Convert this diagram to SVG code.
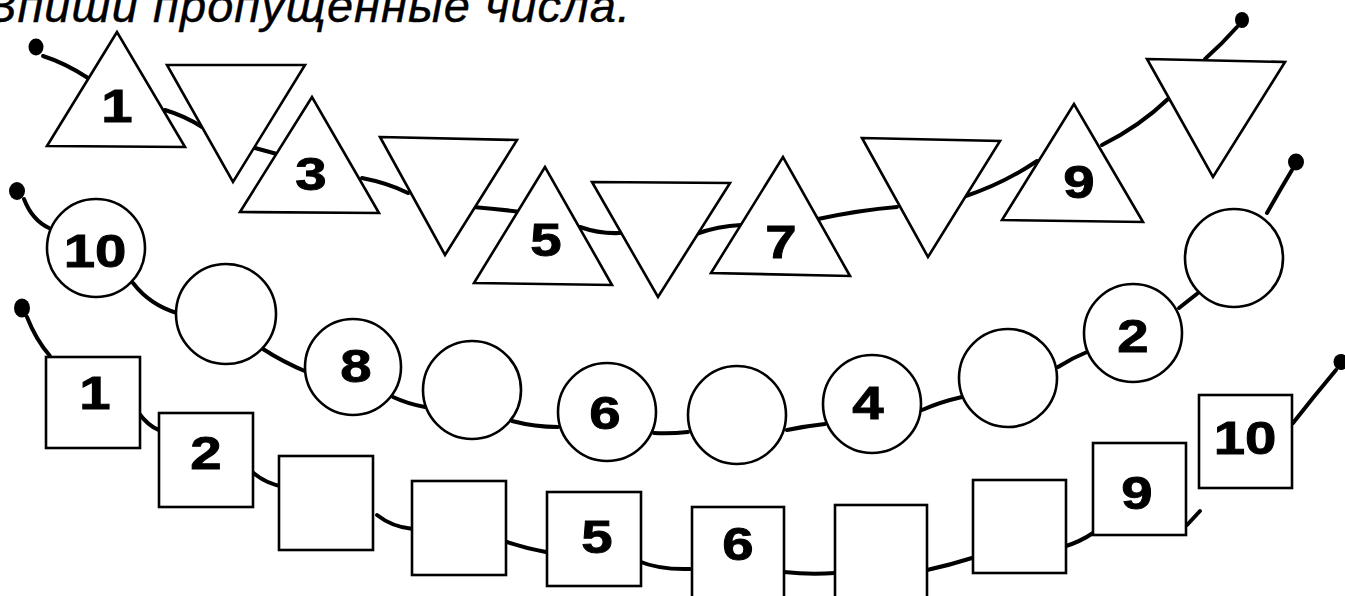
<svg xmlns="http://www.w3.org/2000/svg" width="1345" height="596" viewBox="0 0 1345 596">
<style>
.sh{fill:#fff;stroke:#000;stroke-width:2.6;stroke-linejoin:miter}
.cn{fill:none;stroke:#000;stroke-width:4;stroke-linecap:round}
.dot{fill:#000}
.num{font-family:"Liberation Sans",Arial,sans-serif;font-weight:bold;font-size:47px;text-anchor:middle;fill:#000;stroke:#000;stroke-width:0.9}
.title{font-family:"Liberation Sans",Arial,sans-serif;font-style:italic;font-size:47px;fill:#000;stroke:#000;stroke-width:0.4}
</style>
<rect width="1345" height="596" fill="#fff"/>
<text class="title" x="-15" y="22" textLength="645" lengthAdjust="spacing">Впиши пропущенные числа.</text>
<g id="connectors">
<ellipse class="dot" cx="36" cy="47" rx="7.5" ry="8.5"/>
<ellipse class="dot" cx="1242" cy="20" rx="7" ry="8"/>
<ellipse class="dot" cx="17" cy="191" rx="8" ry="9"/>
<ellipse class="dot" cx="1296" cy="162" rx="8" ry="8.5"/>
<ellipse class="dot" cx="22" cy="308" rx="8" ry="9.5"/>
<ellipse class="dot" cx="1341" cy="362" rx="7.5" ry="8"/>
<path class="cn" d="M43 56 Q65 63 88 78"/>
<path class="cn" d="M165 110 Q185 116 202 127"/>
<path class="cn" d="M255 148 L277 154"/>
<path class="cn" d="M362 178 Q388 183 408 193"/>
<path class="cn" d="M473 207 Q498 209 521 212"/>
<path class="cn" d="M580 227 Q600 234 620 233"/>
<path class="cn" d="M696 234 Q718 226 741 225"/>
<path class="cn" d="M818 219 Q860 210 897 207"/>
<path class="cn" d="M963 197 Q1003 184 1037 161"/>
<path class="cn" d="M1102 145 Q1140 126 1168 99"/>
<path class="cn" d="M1205 59 Q1222 44 1237 27"/>
<path class="cn" d="M24 199 Q32 220 49 228"/>
<path class="cn" d="M133 283 Q150 305 177 313"/>
<path class="cn" d="M263 349 Q283 362 307 372"/>
<path class="cn" d="M393 397 Q408 404 425 407"/>
<path class="cn" d="M512 421 Q535 427 558 427"/>
<path class="cn" d="M654 433 Q670 434 688 432"/>
<path class="cn" d="M787 430 Q806 426 825 424"/>
<path class="cn" d="M922 410 Q940 402 962 397"/>
<path class="cn" d="M1058 367 Q1072 358 1087 352"/>
<path class="cn" d="M1179 308 L1198 293"/>
<path class="cn" d="M1267 213 Q1280 190 1292 170"/>
<path class="cn" d="M27 317 Q36 340 50 356"/>
<path class="cn" d="M138 412 Q148 426 159 430"/>
<path class="cn" d="M250 470 Q265 484 285 487"/>
<path class="cn" d="M377 515 Q392 527 413 529"/>
<path class="cn" d="M507 542 Q525 548 546 552"/>
<path class="cn" d="M638 561 Q660 570 690 569"/>
<path class="cn" d="M784 572 Q810 575 835 573"/>
<path class="cn" d="M927 570 Q950 565 972 558"/>
<path class="cn" d="M1063 547 Q1080 542 1093 533"/>
<path class="cn" d="M1187 525 L1200 511"/>
<path class="cn" d="M1293 423 Q1315 395 1336 370"/>
</g>
<g id="t1"><polygon class="sh" points="117,32 47,146 185,147"/><text class="num" transform="translate(117,122) scale(1.2,1)">1</text></g>
<g id="t2"><polygon class="sh" points="167,65 305,65 233,182"/></g>
<g id="t3"><polygon class="sh" points="312,97 240,212 379,213"/><text class="num" transform="translate(311,190) scale(1.2,1)">3</text></g>
<g id="t4"><polygon class="sh" points="380,137 517,140 445,255"/></g>
<g id="t5"><polygon class="sh" points="545,167 474,283 612,285"/><text class="num" transform="translate(546,256) scale(1.2,1)">5</text></g>
<g id="t6"><polygon class="sh" points="592,182 730,183 658,297"/></g>
<g id="t7"><polygon class="sh" points="783,157 711,273 850,276"/><text class="num" transform="translate(781,258) scale(1.2,1)">7</text></g>
<g id="t8"><polygon class="sh" points="862,138 1000,141 928,257"/></g>
<g id="t9"><polygon class="sh" points="1074,104 1002,220 1143,222"/><text class="num" transform="translate(1079,198) scale(1.2,1)">9</text></g>
<g id="t10"><polygon class="sh" points="1147,59 1285,62 1213,177"/></g>
<g id="c1"><circle class="sh" cx="96" cy="248" r="49"/><text class="num" transform="translate(95,267) scale(1.2,1)">10</text></g>
<g id="c2"><circle class="sh" cx="226" cy="314" r="50"/></g>
<g id="c3"><circle class="sh" cx="353" cy="367" r="48"/><text class="num" transform="translate(356,382) scale(1.2,1)">8</text></g>
<g id="c4"><circle class="sh" cx="472" cy="390" r="49"/></g>
<g id="c5"><circle class="sh" cx="607" cy="412" r="49"/><text class="num" transform="translate(605,429) scale(1.2,1)">6</text></g>
<g id="c6"><circle class="sh" cx="737" cy="415" r="49"/></g>
<g id="c7"><circle class="sh" cx="872" cy="404" r="49"/><text class="num" transform="translate(868,419) scale(1.2,1)">4</text></g>
<g id="c8"><circle class="sh" cx="1008" cy="378" r="49"/></g>
<g id="c9"><circle class="sh" cx="1133" cy="333" r="49"/><text class="num" transform="translate(1133,352) scale(1.2,1)">2</text></g>
<g id="c10"><circle class="sh" cx="1234" cy="258" r="49"/></g>
<g id="s1"><rect class="sh" x="46" y="357" width="94" height="91"/><text class="num" transform="translate(95,409) scale(1.2,1)">1</text></g>
<g id="s2"><rect class="sh" x="159" y="413" width="94" height="94"/><text class="num" transform="translate(206,469) scale(1.2,1)">2</text></g>
<g id="s3"><rect class="sh" x="279" y="456" width="94" height="94"/></g>
<g id="s4"><rect class="sh" x="412" y="481" width="94" height="94"/></g>
<g id="s5"><rect class="sh" x="547" y="492" width="94" height="94"/><text class="num" transform="translate(597,553) scale(1.2,1)">5</text></g>
<g id="s6"><rect class="sh" x="692" y="507" width="92" height="100"/><text class="num" transform="translate(738,560) scale(1.2,1)">6</text></g>
<g id="s7"><rect class="sh" x="835" y="505" width="92" height="100"/></g>
<g id="s8"><rect class="sh" x="973" y="480" width="93" height="93"/></g>
<g id="s9"><rect class="sh" x="1093" y="443" width="93" height="92"/><text class="num" transform="translate(1137,509) scale(1.2,1)">9</text></g>
<g id="s10"><rect class="sh" x="1199" y="395" width="93" height="93"/><text class="num" transform="translate(1245,454) scale(1.2,1)">10</text></g>
</svg>
